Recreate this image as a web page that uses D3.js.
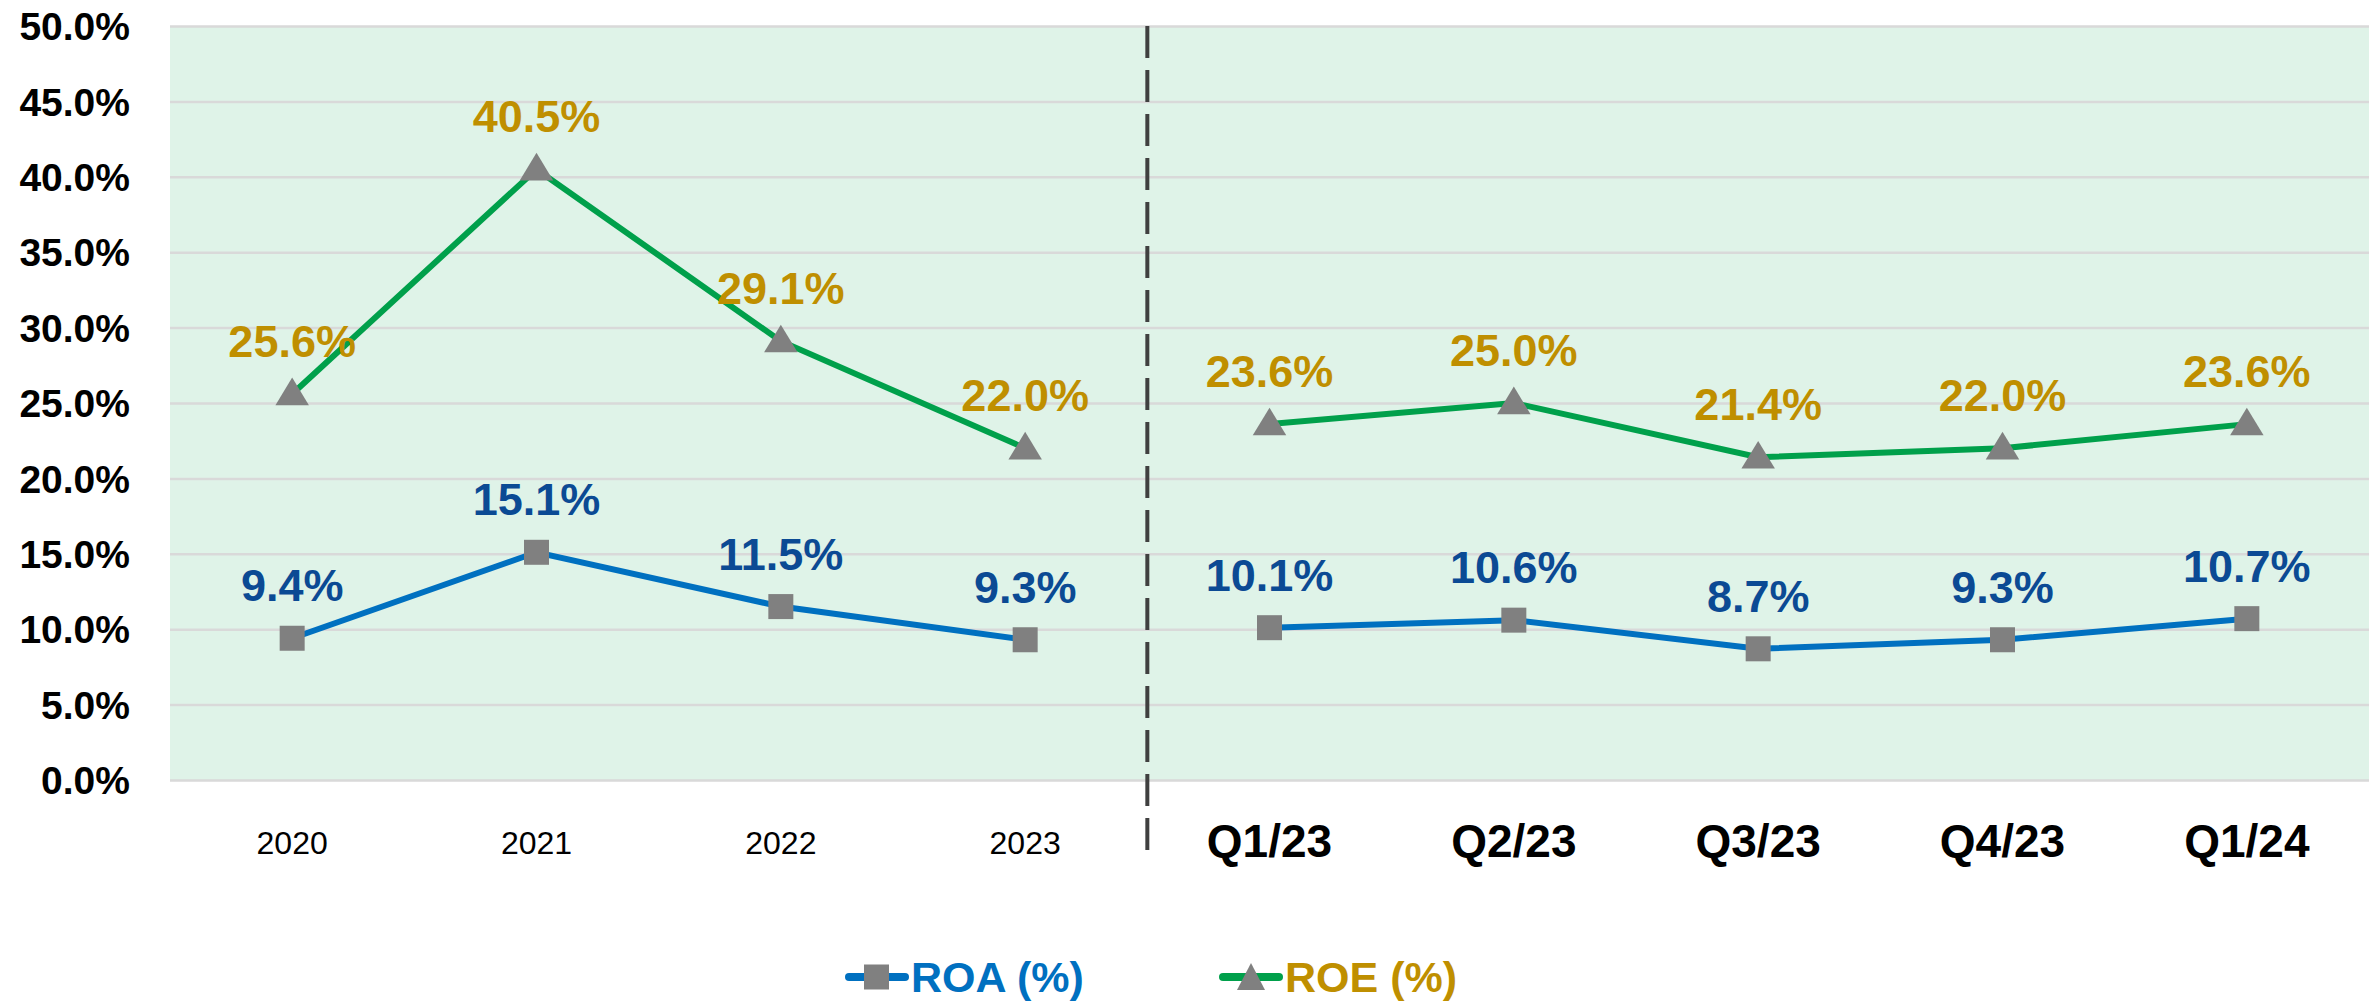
<!DOCTYPE html>
<html>
<head>
    <meta charset="utf-8">
    <title>ROA / ROE</title>
    <script src="https://d3js.org/d3.v7.min.js"></script>
    <style>
        body { margin: 0; background: #fff; }
        text { font-family: "Liberation Sans", Arial, sans-serif; }
    </style>
</head>
<body>
    <svg width="2369" height="1002" id="mainSvg"></svg>
    <script>
        // data
        const categories = ["2020", "2021", "2022", "2023", "Q1/23", "Q2/23", "Q3/23", "Q4/23", "Q1/24"];
        const periods = ["year", "year", "year", "year", "quarter", "quarter", "quarter", "quarter", "quarter"];
        const roa = [9.4, 15.1, 11.5, 9.3, 10.1, 10.6, 8.7, 9.3, 10.7];
        const roe = [25.6, 40.5, 29.1, 22.0, 23.6, 25.0, 21.4, 22.0, 23.6];
        const yTicks = [0, 5, 10, 15, 20, 25, 30, 35, 40, 45, 50];

        const svg = d3.select("#mainSvg");
        const margin = { top: 26, right: 0, bottom: 222, left: 170 };
        const width = +svg.attr("width");
        const height = +svg.attr("height");
        const innerWidth = width - margin.left - margin.right;
        const innerHeight = height - margin.top - margin.bottom;

        const g = svg.append("g")
            .attr("transform", `translate(${margin.left}, ${margin.top})`);

        const xScale = d3.scaleBand()
            .domain(categories)
            .range([0, innerWidth]);
        const yScale = d3.scaleLinear()
            .domain([0, 50])
            .range([innerHeight, 0]);
        const xPos = d => xScale(d) + xScale.bandwidth() / 2;

        // plot background
        g.append("rect")
            .attr("width", innerWidth)
            .attr("height", innerHeight)
            .attr("fill", "#DFF3E8");

        // gridlines + y labels
        const yAxis = d3.axisLeft(yScale)
            .tickValues(yTicks)
            .tickSize(-innerWidth)
            .tickPadding(40)
            .tickFormat(d => d.toFixed(1) + "%");
        const yg = g.append("g").call(yAxis);
        yg.select(".domain").remove();
        yg.selectAll(".tick line").attr("stroke", "#D9D9D9").attr("stroke-width", 2.5);
        yg.selectAll(".tick text")
            .attr("fill", "#000")
            .attr("font-size", 39)
            .attr("font-weight", "bold")
            .attr("dy", "0.35em");

        // x labels
        const xg = g.append("g").attr("transform", `translate(0, ${innerHeight})`)
            .call(d3.axisBottom(xScale).tickSize(0).tickPadding(0));
        xg.select(".domain").remove();
        xg.selectAll(".tick text")
            .attr("fill", "#000")
            .attr("dy", 0)
            .attr("y", d => d.startsWith("Q") ? 77 : 74)
            .attr("font-size", d => d.startsWith("Q") ? 46 : 32)
            .attr("font-weight", d => d.startsWith("Q") ? "bold" : "normal");

        // dashed divider between years and quarters
        const divX = xScale("Q1/23");
        g.append("line")
            .attr("x1", divX).attr("x2", divX)
            .attr("y1", 0).attr("y2", innerHeight + 74)
            .attr("stroke", "#404040")
            .attr("stroke-width", 4)
            .attr("stroke-dasharray", "32,12");

        // one line segment per period group (years / quarters are not joined)
        const segments = values => ["year", "quarter"].map(p =>
            values.map((v, i) => ({ cat: categories[i], v: v, period: periods[i] }))
                .filter(d => d.period === p));
        const line = d3.line()
            .x(d => xPos(d.cat))
            .y(d => yScale(d.v));

        // ROE
        g.selectAll(".roeLine").data(segments(roe)).join("path")
            .attr("class", "roeLine")
            .attr("d", d => line(d))
            .attr("fill", "none")
            .attr("stroke", "#00A04B")
            .attr("stroke-width", 6);
        const tri = d3.symbol().type(d3.symbolTriangle).size(440);
        g.selectAll(".roeMark").data(roe).join("path")
            .attr("class", "roeMark")
            .attr("d", tri)
            .attr("transform", (d, i) => `translate(${xPos(categories[i])}, ${yScale(d) + 2}) scale(1.05, 1)`)
            .attr("fill", "#808080");
        g.selectAll(".roeLabel").data(roe).join("text")
            .attr("class", "roeLabel")
            .attr("x", (d, i) => xPos(categories[i]))
            .attr("y", d => yScale(d) - 37)
            .attr("text-anchor", "middle")
            .attr("font-size", 45)
            .attr("font-weight", "bold")
            .attr("fill", "#BF8F00")
            .text(d => d.toFixed(1) + "%");

        // ROA
        g.selectAll(".roaLine").data(segments(roa)).join("path")
            .attr("class", "roaLine")
            .attr("d", d => line(d))
            .attr("fill", "none")
            .attr("stroke", "#0070C0")
            .attr("stroke-width", 6);
        g.selectAll(".roaMark").data(roa).join("rect")
            .attr("class", "roaMark")
            .attr("x", (d, i) => xPos(categories[i]) - 12.5)
            .attr("y", d => yScale(d) - 12.5)
            .attr("width", 25)
            .attr("height", 25)
            .attr("fill", "#808080");
        g.selectAll(".roaLabel").data(roa).join("text")
            .attr("class", "roaLabel")
            .attr("x", (d, i) => xPos(categories[i]))
            .attr("y", d => yScale(d) - 37)
            .attr("text-anchor", "middle")
            .attr("font-size", 45)
            .attr("font-weight", "bold")
            .attr("fill", "#0B4A94")
            .text(d => d.toFixed(1) + "%");

        // legend
        const legendY = 977;
        const legend = [
            { name: "ROA (%)", line: "#0070C0", text: "#0070C0", x: 849, marker: "square" },
            { name: "ROE (%)", line: "#00A04B", text: "#BF8F00", x: 1223, marker: "triangle" }
        ];
        const lg = svg.selectAll(".legend").data(legend).join("g")
            .attr("class", "legend")
            .attr("transform", d => `translate(${d.x}, ${legendY})`);
        lg.append("line")
            .attr("x1", 0).attr("x2", 56)
            .attr("stroke", d => d.line)
            .attr("stroke-width", 8)
            .attr("stroke-linecap", "round");
        lg.filter(d => d.marker === "square").append("rect")
            .attr("x", 15).attr("y", -12.5)
            .attr("width", 25).attr("height", 25)
            .attr("fill", "#808080");
        lg.filter(d => d.marker === "triangle").append("path")
            .attr("d", "M28,-14 L42,13 L14,13 Z")
            .attr("fill", "#808080");
        lg.append("text")
            .attr("x", 62)
            .attr("y", 15)
            .attr("font-size", 43)
            .attr("font-weight", "bold")
            .attr("fill", d => d.text)
            .text(d => d.name);
    </script>
</body>
</html>
